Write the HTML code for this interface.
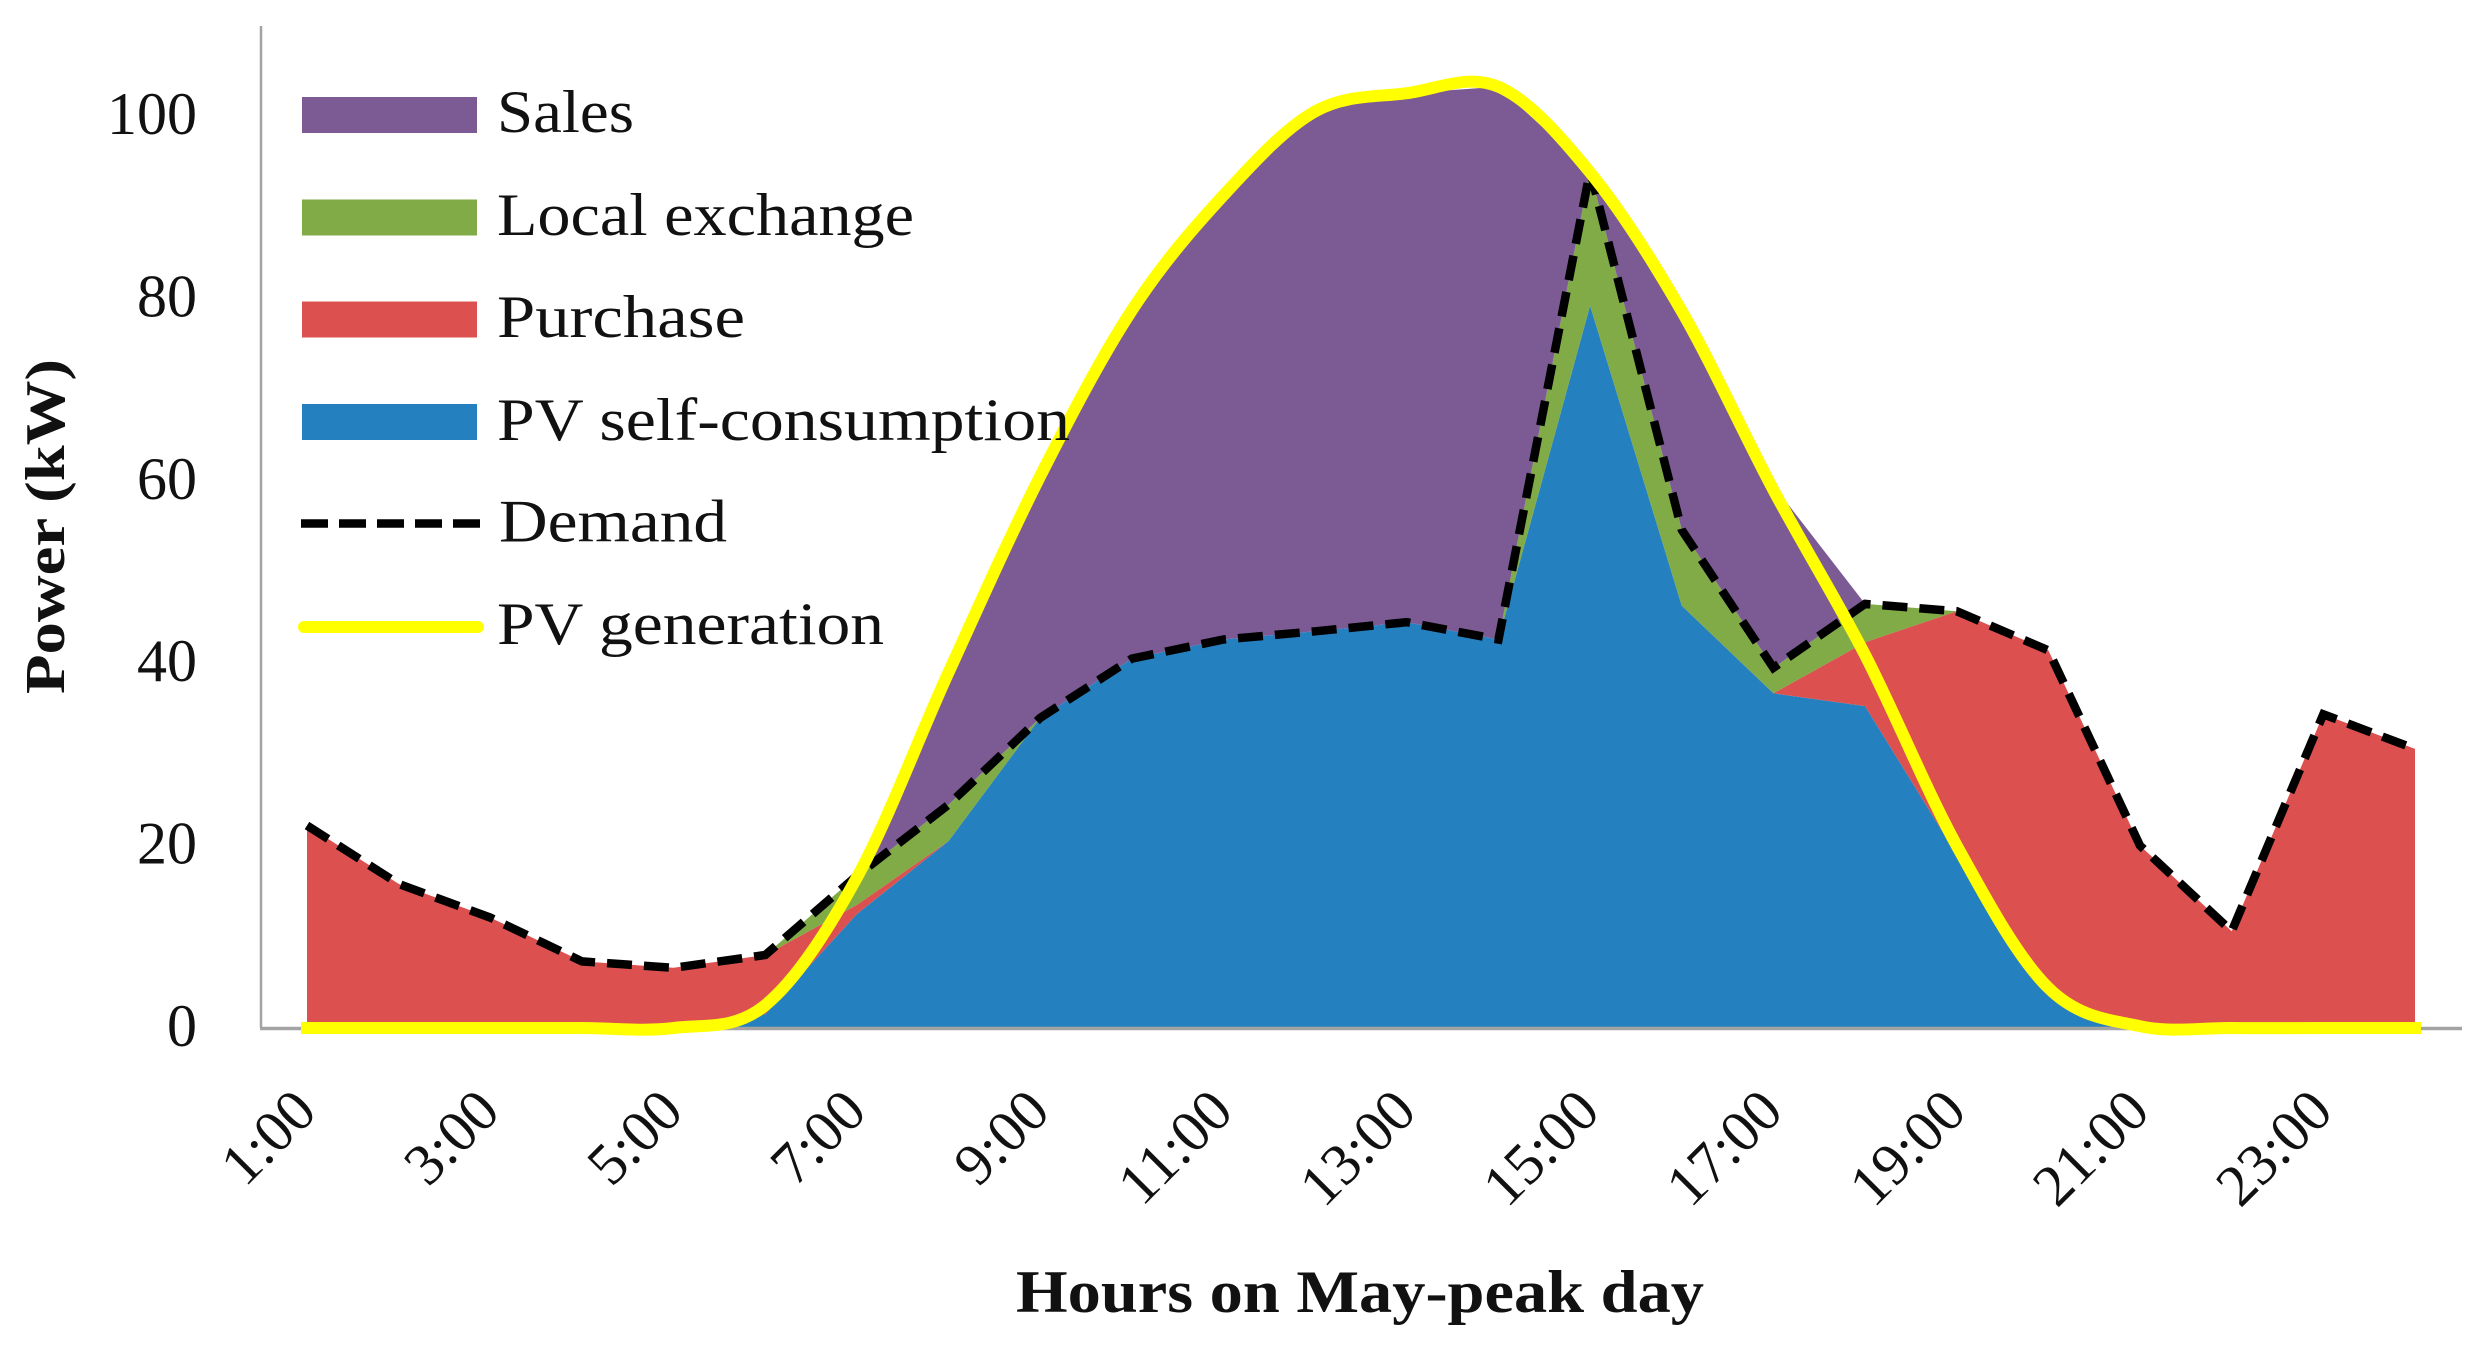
<!DOCTYPE html>
<html lang="en">
<head>
<meta charset="utf-8">
<title>Hours on May-peak day</title>
<style>
html,body{margin:0;padding:0;background:#fff;}
svg{display:block;}
text{font-family:"Liberation Serif",serif;fill:#111;}
</style>
</head>
<body>
<svg id="chart" xmlns="http://www.w3.org/2000/svg" width="2485" height="1356" viewBox="0 0 2485 1356">
  <rect x="0" y="0" width="2485" height="1356" fill="#ffffff"/>
  <g id="areas"></g>
  <line x1="261" y1="26" x2="261" y2="1028" stroke="#a3a3a3" stroke-width="2.5"/>
  <line x1="260" y1="1028.5" x2="2462" y2="1028.5" stroke="#a3a3a3" stroke-width="3.5"/>
  <g id="lines"></g>
  <g id="y-ticks"></g>
  <g id="x-ticks"></g>
  <text transform="translate(64,694) rotate(-90)" font-size="56" font-weight="bold" textLength="335" lengthAdjust="spacingAndGlyphs">Power (kW)</text>
  <text x="1016" y="1312" font-size="60" font-weight="bold" textLength="688" lengthAdjust="spacingAndGlyphs">Hours on May-peak day</text>
  <g>
    <g>
      <rect x="302" y="97" width="175" height="36" fill="#7c5a94"/>
      <text x="497" y="132" font-size="60" textLength="137" lengthAdjust="spacingAndGlyphs">Sales</text>
    </g>
    <g>
      <rect x="302" y="199.5" width="175" height="36" fill="#80ab46"/>
      <text x="497" y="235" font-size="60" textLength="417" lengthAdjust="spacingAndGlyphs">Local exchange</text>
    </g>
    <g>
      <rect x="302" y="301.5" width="175" height="36" fill="#dc5150"/>
      <text x="497" y="337" font-size="60" textLength="248" lengthAdjust="spacingAndGlyphs">Purchase</text>
    </g>
    <g>
      <rect x="302" y="404" width="175" height="36" fill="#2580bf"/>
      <text x="497" y="440" font-size="60" textLength="573" lengthAdjust="spacingAndGlyphs">PV self-consumption</text>
    </g>
    <g>
      <line x1="301" y1="523.5" x2="480" y2="523.5" stroke="#000000" stroke-width="8.5" stroke-dasharray="27 11"/>
      <text x="499" y="541.5" font-size="60" textLength="228" lengthAdjust="spacingAndGlyphs">Demand</text>
    </g>
    <g>
      <line x1="304" y1="627" x2="478" y2="627" stroke="#ffff00" stroke-width="12" stroke-linecap="round"/>
      <text x="497" y="644" font-size="60" textLength="387" lengthAdjust="spacingAndGlyphs">PV generation</text>
    </g>
  </g>
</svg>
<script>
const hours = ["1:00","2:00","3:00","4:00","5:00","6:00","7:00","8:00","9:00","10:00","11:00","12:00","13:00","14:00","15:00","16:00","17:00","18:00","19:00","20:00","21:00","22:00","23:00","24:00"];
const yTicks = [0,20,40,60,80,100];
const selfConsumption = [0,0,0,0,0,1.5,12.5,20.5,34,40.5,42.6,43.5,44.5,42.6,79.2,46.3,36.7,35.3,19,3.5,0,0,0,0];
const purchase = [22.2,15.8,12.1,7.3,6.6,6.5,1,0,0,0,0,0,0,0,0,0,0,7,26.7,37.9,20,10.6,34.4,30.6];
const localExchange = [0,0,0,0,0,0,3.2,4,0,0,0,0,0,0,14.8,8.3,2.8,4.2,0,0,0,0,0,0];
const sales = [0,0,0,0,0,0,0,14.5,26.5,38.2,48.7,57,58,60.6,0,24,20,0,0,0,0,0,0,0];
const demand = [22.2,15.8,12.1,7.3,6.6,8,16.7,24.5,34,40.5,42.6,43.5,44.5,42.6,94,54.6,39.5,46.5,45.7,41.4,20,10.6,34.4,30.6];
const pvGeneration = [0,0,0,0,0,2.5,16.5,39,60.5,78.7,91.3,100.5,102.5,103.2,93.8,78.6,59,40.9,20,4.4,0.2,0,0,0];

const NS = "http://www.w3.org/2000/svg";
function xPos(i){ return 307 + i * (2415 - 307) / (hours.length - 1); }
function yPos(v){ return 1028 - v * 9.12; }

const areaLayer = document.getElementById("areas");
const lineLayer = document.getElementById("lines");
const yTickLayer = document.getElementById("y-ticks");
const xTickLayer = document.getElementById("x-ticks");

function stackedTop(arrays, i){
  let total = 0;
  for (const a of arrays) total += a[i];
  return total;
}
function areaPath(lower, upper){
  let d = "";
  hours.forEach((h, i) => { d += (i ? "L" : "M") + xPos(i).toFixed(1) + " " + yPos(stackedTop(upper, i)).toFixed(1); });
  for (let i = hours.length - 1; i >= 0; i--) {
    d += "L" + xPos(i).toFixed(1) + " " + yPos(stackedTop(lower, i)).toFixed(1);
  }
  return d + "Z";
}
function addArea(lower, upper, color, name){
  const p = document.createElementNS(NS, "path");
  p.setAttribute("d", areaPath(lower, upper));
  p.setAttribute("fill", color);
  
  
  areaLayer.appendChild(p);
}
addArea([], [selfConsumption], "#2580bf", "area-pv-self-consumption");
addArea([selfConsumption], [selfConsumption, purchase], "#dc5150", "area-purchase");
addArea([selfConsumption, purchase], [selfConsumption, purchase, localExchange], "#80ab46", "area-local-exchange");
addArea([selfConsumption, purchase, localExchange], [selfConsumption, purchase, localExchange, sales], "#7c5a94", "area-sales");

// Demand: straight dashed segments
let demandD = "";
demand.forEach((v, i) => { demandD += (i ? "L" : "M") + xPos(i).toFixed(1) + " " + yPos(v).toFixed(1); });
const demandLine = document.createElementNS(NS, "path");
demandLine.setAttribute("d", demandD);
demandLine.setAttribute("fill", "none");
demandLine.setAttribute("stroke", "#000000");
demandLine.setAttribute("stroke-width", "8.5");
demandLine.setAttribute("stroke-dasharray", "25 12");
demandLine.setAttribute("stroke-linejoin", "miter");


lineLayer.appendChild(demandLine);

// PV generation: smoothed line through the hourly values
let pvD = "M" + xPos(0).toFixed(1) + " " + yPos(pvGeneration[0]).toFixed(1);
for (let i = 0; i < pvGeneration.length - 1; i++) {
  const a = pvGeneration[Math.max(i - 1, 0)];
  const b = pvGeneration[i];
  const c = pvGeneration[i + 1];
  const e = pvGeneration[Math.min(i + 2, pvGeneration.length - 1)];
  const dx = xPos(i + 1) - xPos(i);
  const c1x = xPos(i) + dx / 3;
  const c2x = xPos(i + 1) - dx / 3;
  const c1y = yPos(b + (c - a) / 6);
  const c2y = yPos(c - (e - b) / 6);
  pvD += "C" + c1x.toFixed(1) + " " + c1y.toFixed(1) + " " + c2x.toFixed(1) + " " + c2y.toFixed(1) + " " + xPos(i + 1).toFixed(1) + " " + yPos(c).toFixed(1);
}
const pvLine = document.createElementNS(NS, "path");
pvLine.setAttribute("d", pvD);
pvLine.setAttribute("fill", "none");
pvLine.setAttribute("stroke", "#ffff00");
pvLine.setAttribute("stroke-width", "12");
pvLine.setAttribute("stroke-linecap", "square");


lineLayer.appendChild(pvLine);

yTicks.forEach((v) => {
  const t = document.createElementNS(NS, "text");
  t.setAttribute("x", "197");
  t.setAttribute("y", (yPos(v) + 18).toFixed(1));
  t.setAttribute("font-size", "60");
  t.setAttribute("text-anchor", "end");
  
  
  t.textContent = String(v);
  yTickLayer.appendChild(t);
});

hours.forEach((h, i) => {
  if (i % 2 !== 0) return;
  const t = document.createElementNS(NS, "text");
  const px = xPos(i) + 12;
  const py = 1114;
  t.setAttribute("transform", "translate(" + px.toFixed(1) + "," + py + ") rotate(-45)");
  t.setAttribute("font-size", "59");
  t.setAttribute("text-anchor", "end");
  
  
  t.textContent = h;
  xTickLayer.appendChild(t);
});
</script>
</body>
</html>
